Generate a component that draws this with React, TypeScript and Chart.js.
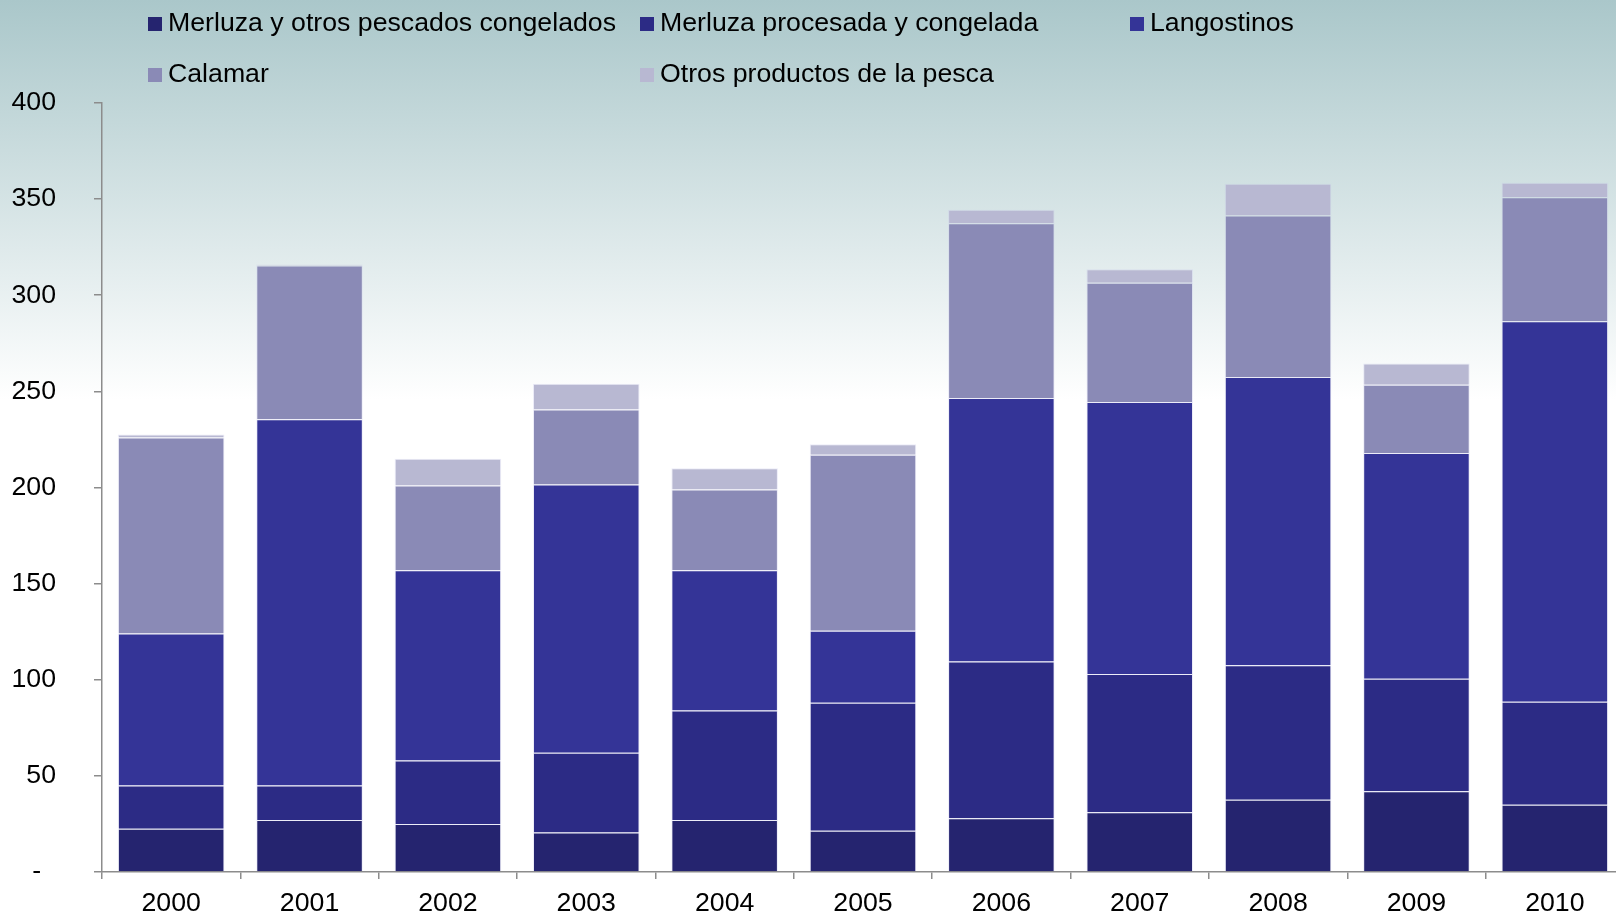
import React, { useEffect, useRef } from "react";
import { Chart, registerables } from "chart.js";

Chart.register(...registerables);

const years = ["2000", "2001", "2002", "2003", "2004", "2005", "2006", "2007", "2008", "2009", "2010"];
const merlutaOtros = [22.5, 27, 25, 20.5, 27, 21.5, 28, 31, 37.5, 42, 35];
const merlutaProcesada = [22.5, 18, 33, 41.5, 57, 66.5, 81.5, 72, 70, 58.5, 53.5];
const langostinos = [79, 190.5, 99, 139.5, 73, 37.5, 137, 141.5, 150, 117.5, 198];
const calamar = [102, 80, 44, 39, 42, 91.5, 91, 62, 84, 35.5, 64.5];
const otros = [1.5, 0.5, 14, 13.5, 11, 5.5, 7, 7, 16.5, 11, 7.5];

const seriesNames = [
  "Merluza y otros pescados congelados",
  "Merluza procesada y congelada",
  "Langostinos",
  "Calamar",
  "Otros productos de la pesca",
];
const seriesColors = ["#25246f", "#2c2b85", "#343497", "#8a8ab6", "#b8b8d2"];
const seriesData = [merlutaOtros, merlutaProcesada, langostinos, calamar, otros];

const FONT = "'Liberation Sans', Arial, sans-serif";
const FS = 26.7;

const legendPos = [
  { left: 148, top: 7 },
  { left: 640, top: 7 },
  { left: 1130, top: 7 },
  { left: 148, top: 58 },
  { left: 640, top: 58 },
];

export default function App() {
  const canvasRef = useRef<HTMLCanvasElement | null>(null);

  useEffect(() => {
    const canvas = canvasRef.current;
    if (!canvas) return;
    const chart = new Chart(canvas, {
      type: "bar",
      data: {
        labels: years,
        datasets: seriesData.map((d, i) => ({
          label: seriesNames[i],
          data: d,
          backgroundColor: seriesColors[i],
          borderColor: "rgba(200,200,235,0.35)",
          borderWidth: 1,
          barPercentage: 0.77,
          categoryPercentage: 1,
        })),
      },
      options: {
        animation: false,
        responsive: false,
        devicePixelRatio: 1,
        layout: { padding: { top: 103, left: 0, right: 0, bottom: 0 } },
        plugins: {
          legend: { display: false },
          tooltip: { enabled: false },
        },
        scales: {
          x: {
            stacked: true,
            grid: {
              offset: true,
              drawOnChartArea: false,
              drawTicks: true,
              tickLength: 7,
              color: "#8c8c8c",
              lineWidth: 1.5,
            },
            border: { color: "#8c8c8c", width: 1.5 },
            ticks: {
              color: "#000",
              padding: 9,
              font: { family: FONT, size: FS },
            },
          },
          y: {
            stacked: true,
            min: 0,
            max: 400,
            afterFit: (s: any) => {
              s.width = 102;
            },
            grid: {
              drawOnChartArea: false,
              drawTicks: true,
              tickLength: 8,
              color: "#8c8c8c",
              lineWidth: 1.5,
            },
            border: { color: "#8c8c8c", width: 1.5 },
            ticks: {
              stepSize: 50,
              color: "#000",
              padding: 38,
              font: { family: FONT, size: FS },
              callback: (v: any) => (Number(v) === 0 ? "-\u00a0\u00a0" : String(v)),
            },
          },
        },
      },
    });
    return () => chart.destroy();
  }, []);

  return (
    <div
      style={{
        position: "fixed",
        left: 0,
        top: 0,
        width: 1616,
        height: 914,
        overflow: "hidden",
        background: "linear-gradient(to bottom, #aac7ca 0px, #ffffff 400px, #ffffff 914px)",
        fontFamily: FONT,
      }}
    >
      <canvas
        ref={canvasRef}
        width={1624}
        height={929}
        style={{ position: "absolute", left: 0, top: 0, width: 1624, height: 929 }}
      />
      {seriesNames.map((name, i) => (
        <div
          key={name}
          style={{
            position: "absolute",
            left: legendPos[i].left,
            top: legendPos[i].top,
            height: 30,
            lineHeight: "30px",
            fontSize: FS,
            color: "#000",
            whiteSpace: "nowrap",
          }}
        >
          <span
            style={{
              position: "absolute",
              left: 0,
              top: 10,
              width: 14,
              height: 14,
              background: seriesColors[i],
            }}
          />
          <span style={{ position: "absolute", left: 20, top: 0 }}>{name}</span>
        </div>
      ))}
    </div>
  );
}
